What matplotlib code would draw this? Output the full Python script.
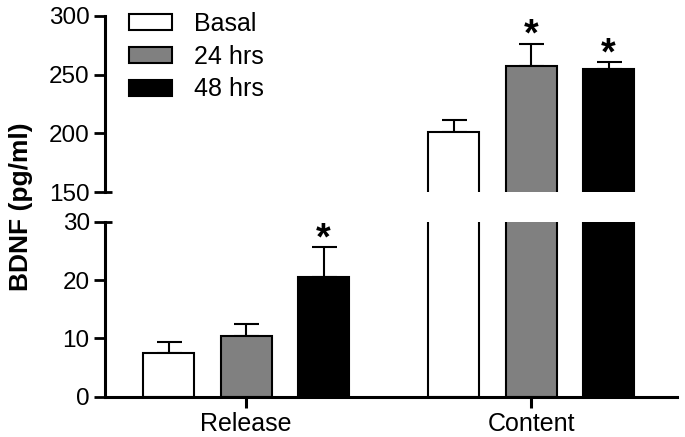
import numpy as np
import matplotlib
matplotlib.use("Agg")
import matplotlib.pyplot as plt

plt.rcParams['font.family'] = ['Liberation Sans', 'DejaVu Sans']

# data
groups = ["Release", "Content"]
series = ["Basal", "24 hrs", "48 hrs"]
colors = ["white", "#808080", "black"]
means = [[7.5, 201.0],
         [10.4, 257.5],
         [20.6, 254.5]]
errors = [[1.9, 10.0],
          [2.0, 18.5],
          [5.0, 6.0]]
starred = [[False, False],
           [False, True],
           [True, True]]

fig = plt.figure(figsize=(6.85, 4.37), dpi=100)
ax_top = fig.add_axes([0.1533, 0.5606, 0.835, 0.4028])
ax_bot = fig.add_axes([0.1533, 0.0922, 0.835, 0.4005])

x = np.arange(len(groups))
step = 0.272
width = 0.179

for ax in (ax_top, ax_bot):
    for i, name in enumerate(series):
        pos = x + (i - 1) * step
        ax.bar(pos, means[i], width, color=colors[i], edgecolor="black",
               linewidth=1.5, label=name, zorder=2)
        ax.errorbar(pos, means[i], yerr=[np.zeros(len(groups)), errors[i]],
                    fmt="none", ecolor="black", elinewidth=1.5, capsize=9,
                    capthick=1.5, zorder=1)
        for j in range(len(groups)):
            if starred[i][j]:
                ax.annotate("*", (pos[j], means[i][j] + errors[i][j]),
                            xytext=(0, -7), textcoords="offset points",
                            ha="center", va="bottom", fontsize=27,
                            fontweight="bold", annotation_clip=True)
    ax.set_xlim(-0.495, 1.512)
    for s in ("top", "right"):
        ax.spines[s].set_visible(False)
    ax.spines["left"].set_linewidth(2.2)
    ax.tick_params(axis="y", length=8, width=2, labelsize=17.5, pad=3)

ax_top.set_ylim(150, 300)
ax_top.set_yticks([150, 200, 250, 300])
ax_top.spines["bottom"].set_visible(False)
ax_top.set_xticks([])

ax_bot.set_ylim(0, 30)
ax_bot.set_yticks([0, 10, 20, 30])
ax_bot.spines["bottom"].set_linewidth(2.2)
ax_bot.set_xticks(x)
ax_bot.set_xticklabels(groups)
ax_bot.tick_params(axis="x", length=8, width=2.2, labelsize=18, pad=3)

# small break marks at the cut ends of the axis
for ax, yv in ((ax_top, 0), (ax_bot, 1)):
    ax.plot([0, 0.013], [yv, yv], transform=ax.transAxes, color="black",
            lw=2, clip_on=False, solid_capstyle="butt")

ax_top.legend(loc="upper left", bbox_to_anchor=(0.025, 1.08), frameon=False,
              fontsize=18, handlelength=1.7, handleheight=0.6,
              handletextpad=0.9, labelspacing=0.35, borderaxespad=0)

fig.text(0.03, 0.526, "BDNF (pg/ml)", rotation=90, ha="center", va="center",
         fontsize=19, fontweight="bold")

fig.savefig("out.png", dpi=100)
